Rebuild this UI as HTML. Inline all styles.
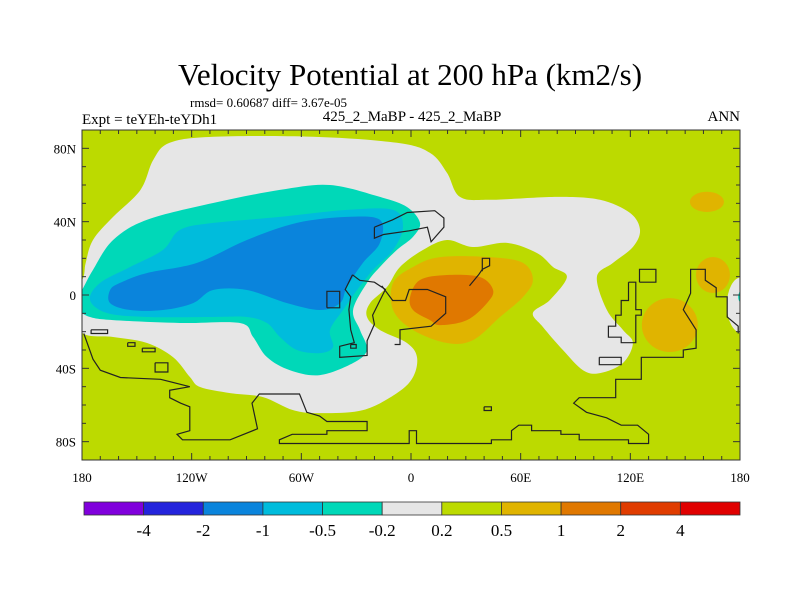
<!DOCTYPE html>
<html><head><meta charset="utf-8">
<style>
html,body{margin:0;padding:0;background:#fff;}
svg{display:block;font-family:"Liberation Serif",serif;}
</style></head>
<body>
<svg id="chart" width="800" height="600" viewBox="0 0 800 600">
<defs><clipPath id="plotclip"><rect x="82" y="130" width="658" height="330"/></clipPath></defs>
<text x="410" y="85" text-anchor="middle" font-size="31">Velocity Potential at 200 hPa (km2/s)</text>
<text x="190" y="107" font-size="13">rmsd= 0.60687 diff= 3.67e-05</text>
<text x="82" y="124" font-size="15">Expt = teYEh-teYDh1</text>
<text x="412" y="121" text-anchor="middle" font-size="15">425_2_MaBP - 425_2_MaBP</text>
<text x="740" y="121" text-anchor="end" font-size="15">ANN</text>
<g id="plot" clip-path="url(#plotclip)"></g>
<g id="coast" clip-path="url(#plotclip)"></g>
<g id="axes"></g>
<g id="cbar"></g>
</svg>
<script>
// contour level colors and labels
const levelLabels = ["-4","-2","-1","-0.5","-0.2","0.2","0.5","1","2","4"];
const levelColors = ["#8000dc","#2424dc","#0a84dc","#00bcdc","#00d8b8","#e6e6e6","#bcda00","#e0b400","#e07800","#e03c00","#e00000"];
const xTicks = [-180,-120,-60,0,60,120,180];
const xTickLabels = ["180","120W","60W","0","60E","120E","180"];
const yTicks = [80,40,0,-40,-80];
const yTickLabels = ["80N","40N","0","40S","80S"];

// contour regions: [lon,lat] points
const regionWhite = [[-180,8],[-178,17.5],[-174,30],[-163,42.6],[-148,57.3],[-141,73.7],[-132,83],[-108,86.3],[-53.6,86.3],[-7.7,83],[10.4,77.5],[19.7,66.6],[26.8,53.5],[43.2,51.9],[79.9,53.5],[103.4,51.9],[119.8,44.8],[125.3,35.5],[121.4,26.2],[110.5,17.5],[101.7,9.8],[107.2,-8.2],[116,-19.1],[121.4,-26.2],[116,-37.1],[103.4,-42.6],[94.1,-41],[83.1,-30],[72.2,-17.5],[66.7,-9.8],[76,-2.7],[85.3,9.8],[77.7,15.3],[68.9,22.9],[52.5,28.4],[33.9,26.2],[19.7,30],[6.6,24.6],[-6,15.3],[-13.1,4.4],[-22.4,-4.4],[-24.1,-12],[-17,-19.1],[-2.2,-26.2],[3.3,-33.9],[1.1,-44.8],[-7.7,-53.5],[-26.3,-62.8],[-49.8,-64.4],[-64.5,-62.8],[-81,-55.7],[-99,-53.5],[-115.4,-50.2],[-120.9,-44.8],[-130.2,-33.9],[-144.4,-26.2],[-163,-22.9],[-180,-20.7],[-190,-5]];
const regionTeal = [[-180,2.7],[-174,13.7],[-163,30],[-144.4,41],[-108.3,50.2],[-71.7,57.3],[-44.3,60],[-17,53.5],[-2.2,48],[4.9,39.3],[1.1,31.7],[-7.7,24.6],[-17,15.3],[-24.1,6.6],[-31.7,-8.2],[-27.9,-19.1],[-24.1,-30],[-31.7,-37.1],[-49.8,-43.7],[-66.2,-41],[-78.8,-33.9],[-86.4,-22.9],[-93.6,-15.3],[-126.4,-15.3],[-163,-13.7],[-175.6,-12],[-182,-8.2],[-184,-3]];
const regionLightBlue = [[-175.6,-2.7],[-170.1,6.6],[-153.7,15.3],[-135.7,24.6],[-126.4,35.5],[-108.3,39.3],[-71.7,42.6],[-35,46.4],[-9.8,46.4],[-4.4,37.1],[-9.8,24.6],[-20.8,13.7],[-29.5,2.7],[-37.2,-8.2],[-44.3,-19.1],[-42.7,-28.4],[-49.8,-31.7],[-62.4,-30],[-71.7,-22.9],[-78.8,-15.3],[-89.8,-12],[-108.3,-12],[-144.4,-12],[-166.3,-9.8]];
const regionDarkBlue = [[-164.6,2.7],[-159.2,6.6],[-144.4,12],[-117.1,17.5],[-89.8,30],[-62.4,39.3],[-35,42.6],[-17,41],[-17,28.4],[-26.3,17.5],[-35,4.4],[-38.8,-4.4],[-49.8,-8.2],[-67.8,-4.4],[-89.8,2.7],[-108.3,2.7],[-119.2,-4.4],[-135.7,-8.2],[-153.7,-8.2],[-164.6,-4.4]];
const regionOrange1 = [[-9.8,6.6],[1.1,15.3],[15.9,20.7],[43.2,20.7],[61.3,17.5],[66.7,8.2],[61.3,-1.1],[48.7,-12],[33.9,-24.6],[19.7,-26.2],[1.1,-19.1],[-9.8,-8.2]];
const regionOrange2 = [[-0.5,-1.1],[4.9,8.2],[19.7,10.9],[37.7,9.8],[44.9,2.7],[41.6,-4.4],[30.6,-13.7],[15.9,-16.4],[10.4,-13.7],[1.1,-8.2]];
// elliptical blobs: [centerLon, centerLat], [radiusLon, radiusLat]
const blobCenters = [[161.9,50.8],[165.2,10.9],[141.6,-16.4],[181,-5.5],[180.5,-1]];
const blobRadii = [[9.3,5.5],[9.3,9.8],[15.3,14.7],[8.2,15.3],[1.5,3]];
const blobLevels = [7,7,7,5,4];

// coastlines (lon,lat)
const coastSouth = [[-179,-21],[-174,-35],[-170,-41],[-159,-45],[-137,-46],[-121,-50],[-132,-52],[-132,-56],[-126,-59],[-121,-61],[-121,-74],[-128,-76],[-125,-79],[-99,-79],[-84,-73],[-87,-59],[-83,-54],[-61,-54],[-57,-64],[-50,-66],[-46,-69],[-24,-69],[-24,-74],[-46,-74],[-46,-76],[-65,-76],[-72,-79],[-72,-81],[-1,-81],[-1,-74],[3,-74],[3,-81],[44,-81],[44,-79],[55,-79],[55,-74],[59,-71],[66,-71],[66,-74],[82,-74],[82,-76],[92,-76],[92,-79],[119,-79],[119,-81],[130,-81],[130,-76],[124,-71],[115,-71],[107,-67],[96,-64],[89,-59],[92,-56],[112,-56],[112,-46],[126,-46],[126,-34],[149,-34],[149,-30],[156,-29],[156,-19],[149,-8],[153,1],[153,14],[161,14],[161,8],[167,4],[167,-1],[173,-1],[173,-12],[179,-17],[179,-21]];
const coastNorth = [[-20,37],[-10,41],[-2,45],[13,46],[18,42],[18,37],[11,29],[9,37],[-1,35],[-15,33],[-20,31],[-20,37]];
const coastSAm = [[-32,11],[-28,8],[-20,7],[-14,3],[-17,-3],[-21,-11],[-20,-16],[-24,-25],[-24,-33],[-39,-34],[-39,-28],[-31,-26],[-33,-19],[-34,-8],[-33,-1],[-36,3],[-32,11]];
const coastAfrica = [[-16,5],[-10,-3],[-3,-3],[-1,3],[9,3],[19,-1],[19,-10],[11,-17],[-6,-19],[-6,-27],[-9,-27]];
const coastAfrica2 = [[32,5],[37,11],[39,14],[43,16],[43,20],[39,20],[39,13]];
const coastAsia = [[119,7],[123,7],[123,-8],[126,-8],[126,-11],[123,-11],[123,-26],[115,-26],[115,-23],[108,-23],[108,-17],[112,-17],[112,-11],[115,-11],[115,-3],[119,-3],[119,7]];
const coastBoxes = [[-46,-7,-39,2],[125,7,134,14],[103,-34,115,-38],[-175,-19,-166,-21],[-155,-26,-151,-28],[-147,-29,-140,-31],[-140,-37,-133,-42],[40,-61,44,-63],[-33,-27,-30,-29]];

const NS="http://www.w3.org/2000/svg";
const X0=82,X1=740,Y0=130,Y1=460;
function xScale(lon){return X0+(lon+180)/360*(X1-X0);}
function yScale(lat){return Y0+(90-lat)/180*(Y1-Y0);}
function mk(tag,attrs,parent){const e=document.createElementNS(NS,tag);for(const k in attrs)e.setAttribute(k,attrs[k]);parent.appendChild(e);return e;}
function smoothPath(pts){
  const p=pts.map(d=>[xScale(d[0]),yScale(d[1])]);const n=p.length;let s="M"+p[0][0].toFixed(1)+","+p[0][1].toFixed(1);
  for(let i=0;i<n;i++){const a=p[(i-1+n)%n],b=p[i],c=p[(i+1)%n],d=p[(i+2)%n];
    const c1=[b[0]+(c[0]-a[0])/6,b[1]+(c[1]-a[1])/6],c2=[c[0]-(d[0]-b[0])/6,c[1]-(d[1]-b[1])/6];
    s+="C"+c1[0].toFixed(1)+","+c1[1].toFixed(1)+" "+c2[0].toFixed(1)+","+c2[1].toFixed(1)+" "+c[0].toFixed(1)+","+c[1].toFixed(1);}
  return s+"Z";}
function linePath(pts){return pts.map((d,i)=>(i?"L":"M")+xScale(d[0]).toFixed(1)+","+yScale(d[1]).toFixed(1)).join("");}

const plot=document.getElementById("plot");
const bg=mk("rect",{x:X0,y:Y0,width:X1-X0,height:Y1-Y0,fill:levelColors[6]},plot);


const regions=[[regionWhite,5,"contour-0.2"],[regionTeal,4,"contour-neg0.2"],[regionLightBlue,3,"contour-neg0.5"],[regionDarkBlue,2,"contour-neg1"],[regionOrange1,7,"contour-0.5"],[regionOrange2,8,"contour-1"]];
regions.forEach(r=>{const e=mk("path",{d:smoothPath(r[0]),fill:levelColors[r[1]]},plot);
  
  });
blobCenters.forEach((c,i)=>{const cx=xScale(c[0]),cy=yScale(c[1]);
  const rx=xScale(c[0]+blobRadii[i][0])-cx,ry=cy-yScale(c[1]+blobRadii[i][1]);
  const e=mk("ellipse",{cx:cx,cy:cy,rx:rx,ry:ry,fill:levelColors[blobLevels[i]]},plot);
  
  });

const coast=document.getElementById("coast");
[coastSouth,coastNorth,coastSAm,coastAfrica,coastAfrica2,coastAsia].forEach(c=>{
  const e=mk("path",{d:linePath(c),fill:"none",stroke:"#222","stroke-width":1.2},coast);
  
  });
coastBoxes.forEach(b=>{const e=mk("path",{d:linePath([[b[0],b[1]],[b[2],b[1]],[b[2],b[3]],[b[0],b[3]],[b[0],b[1]]]),fill:"none",stroke:"#222","stroke-width":1.2},coast);
  
  });

const axes=document.getElementById("axes");
const fr=mk("rect",{x:X0,y:Y0,width:X1-X0,height:Y1-Y0,fill:"none",stroke:"#333","stroke-width":1},axes);


for(let lon=-180;lon<=180;lon+=10){const x=xScale(lon),L=(lon%60===0)?7:4;
  mk("line",{x1:x,y1:Y1,x2:x,y2:Y1-L,stroke:"#333"},axes);mk("line",{x1:x,y1:Y0,x2:x,y2:Y0+L,stroke:"#333"},axes);}
for(let lat=-90;lat<=90;lat+=10){const y=yScale(lat),L=(lat%40===0)?7:4;
  mk("line",{x1:X0,y1:y,x2:X0+L,y2:y,stroke:"#333"},axes);mk("line",{x1:X1,y1:y,x2:X1-L,y2:y,stroke:"#333"},axes);}
xTicks.forEach((v,i)=>{const t=mk("text",{x:xScale(v),y:482,"text-anchor":"middle","font-size":13},axes);t.textContent=xTickLabels[i];
  
  });
yTicks.forEach((v,i)=>{const t=mk("text",{x:76,y:yScale(v)+5,"text-anchor":"end","font-size":13},axes);t.textContent=yTickLabels[i];
  
  });

const cbar=document.getElementById("cbar");
const CB0=84,CB1=740,bw=(CB1-CB0)/levelColors.length;
levelColors.forEach((c,i)=>{const r=mk("rect",{x:CB0+i*bw,y:502,width:bw,height:13,fill:c,stroke:"#333","stroke-width":0.8},cbar);
  
  });
levelLabels.forEach((l,i)=>{const t=mk("text",{x:CB0+(i+1)*bw,y:536,"text-anchor":"middle","font-size":17},cbar);t.textContent=l;
  
  });
</script>
</body></html>
